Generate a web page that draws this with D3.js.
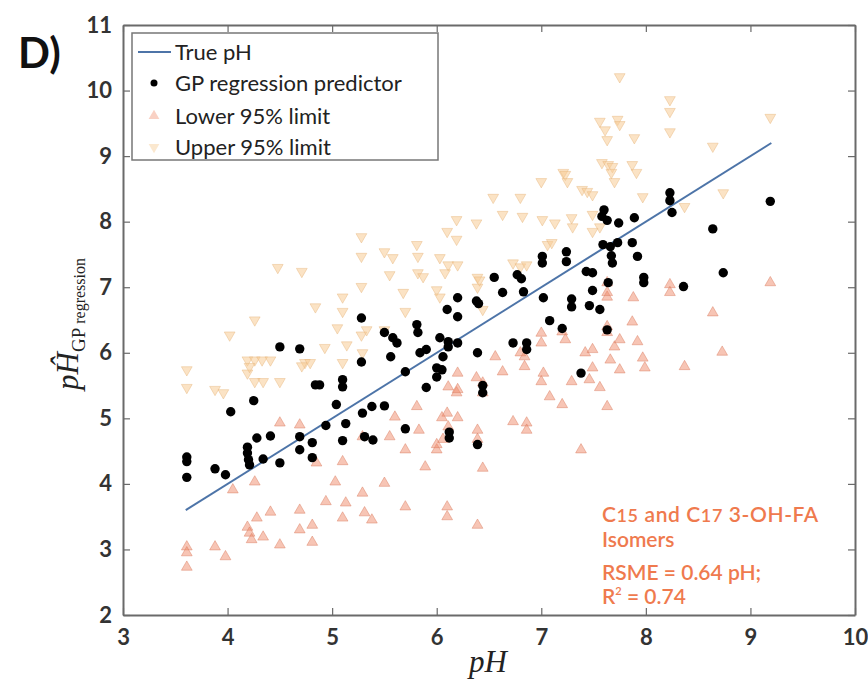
<!DOCTYPE html>
<html lang="en">
<head>
   <meta charset="UTF-8">
   <title>GP regression pH</title>
   <script src="https://cdn.jsdelivr.net/npm/d3@7"></script>
   <style>
      body { margin: 0; background: #fff; }
      svg text { font-family: Lato, "Open Sans", sans-serif; }
   </style>
</head>
<body>
   <svg id="chart" width="868" height="690"></svg>

   <script>
      // axis ticks
      const xTicks = [3, 4, 5, 6, 7, 8, 9, 10];
      const yTicks = [2, 3, 4, 5, 6, 7, 8, 9, 10, 11];

      // true pH line end points
      const trueLine = [[3.6, 3.6], [9.2, 9.2]];

      // GP regression predictor [true pH, predicted pH]
      const predPts = [
         [3.61,4.41],[3.61,4.34],[3.61,4.10],[3.88,4.23],[3.98,4.14],[4.03,5.10],[4.25,5.27],
         [4.19,4.56],[4.19,4.47],[4.20,4.37],[4.21,4.29],[4.28,4.70],[4.41,4.73],[4.34,4.38],
         [4.50,6.09],[4.50,4.32],[4.69,6.06],[4.69,4.72],[4.69,4.52],[4.81,4.63],[4.81,4.40],
         [4.84,5.51],[4.88,5.51],[4.94,4.89],[5.04,5.21],[5.10,5.59],[5.10,5.48],[5.10,4.66],
         [5.13,4.92],[5.28,6.53],[5.28,5.86],[5.29,5.08],[5.31,4.72],[5.39,4.67],[5.38,5.18],
         [5.50,6.31],[5.50,5.19],[5.56,5.94],[5.58,6.23],[5.62,6.15],[5.70,5.71],[5.70,4.84],
         [5.81,6.43],[5.82,6.31],[5.84,6.00],[5.90,6.05],[5.90,5.47],[6.00,5.77],[6.05,5.74],
         [6.00,5.63],[6.06,5.94],[6.03,6.23],[6.11,6.17],[6.11,6.09],[6.20,6.15],[6.10,6.66],
         [6.20,6.55],[6.20,6.84],[6.38,6.79],[6.40,6.75],[6.39,6.00],[6.44,5.50],[6.44,5.39],
         [6.12,4.79],[6.12,4.70],[6.39,4.60],[6.55,7.15],[6.63,6.92],[6.77,7.19],[6.81,7.13],
         [6.83,6.93],[7.01,7.47],[7.01,7.37],[7.02,6.84],[7.08,6.49],[7.20,6.37],[6.73,6.15],
         [6.86,6.15],[6.86,6.05],[7.24,7.54],[7.24,7.39],[7.43,7.24],[7.49,7.22],[7.49,6.95],
         [7.29,6.82],[7.29,6.70],[7.46,6.72],[7.56,6.66],[7.38,5.69],[7.63,6.35],[7.64,7.07],
         [7.60,8.18],[7.58,8.08],[7.63,8.02],[7.74,7.98],[7.89,8.06],[7.59,7.65],[7.66,7.62],
         [7.73,7.68],[7.67,7.48],[7.68,7.37],[7.87,7.68],[7.92,7.47],[7.98,7.15],[7.98,7.07],
         [8.23,8.44],[8.23,8.32],[8.25,8.14],[8.36,7.01],[8.64,7.89],[8.74,7.22],[9.19,8.31]
      ];

      // lower 95% limit [true pH, value]
      const lowerPts = [
         [3.61,3.04],[3.61,2.95],[3.61,2.73],[3.88,3.04],[3.98,2.89],[4.05,3.91],[4.26,4.03],
         [4.19,3.34],[4.21,3.25],[4.23,3.15],[4.28,3.48],[4.34,3.19],[4.41,3.57],[4.50,4.93],
         [4.50,3.07],[4.69,4.90],[4.69,3.60],[4.69,3.30],[4.81,3.37],[4.81,3.11],[4.85,4.32],
         [4.94,3.73],[5.03,4.03],[5.10,4.34],[5.13,3.71],[5.10,3.48],[5.29,3.86],[5.31,3.56],
         [5.38,3.45],[5.29,4.72],[5.50,4.01],[5.70,4.52],[5.70,3.65],[5.81,5.18],[5.83,4.82],
         [5.89,4.26],[6.00,4.52],[6.00,4.60],[5.60,5.02],[5.55,4.72],[6.10,3.65],[6.10,3.50],
         [6.10,5.08],[6.05,5.01],[6.20,5.01],[6.11,4.87],[6.06,4.68],[6.11,5.48],[6.19,5.39],
         [6.39,4.82],[6.39,4.68],[6.44,4.24],[6.39,3.37],[6.73,4.95],[6.86,4.93],[6.86,4.82],
         [7.00,5.56],[7.08,5.33],[6.20,5.69],[6.20,5.44],[6.38,5.62],[6.44,5.54],[6.44,5.39],
         [6.56,5.94],[6.63,5.71],[6.80,6.00],[6.84,5.94],[6.84,5.79],[7.02,5.69],[7.00,6.30],
         [7.00,6.15],[7.20,6.32],[7.23,6.20],[7.29,5.56],[7.20,5.21],[7.38,4.52],[7.46,5.59],
         [7.56,5.47],[7.63,5.18],[7.42,6.00],[7.49,6.05],[7.49,5.77],[7.66,5.89],[7.70,6.09],
         [7.75,5.74],[7.75,6.20],[7.63,6.40],[7.63,6.31],[7.63,6.85],[7.63,7.07],[7.63,6.92],
         [7.87,6.47],[7.88,6.84],[7.92,6.17],[7.97,5.92],[7.99,5.77],[8.23,7.04],[8.23,6.92],
         [8.37,5.79],[8.64,6.61],[8.73,6.01],[9.19,7.07]
      ];

      // upper 95% limit [true pH, value]
      const upperPts = [
         [3.61,5.74],[3.61,5.47],[3.88,5.44],[3.96,5.39],[4.02,6.27],[4.26,6.50],[4.19,5.89],
         [4.26,5.89],[4.33,5.89],[4.41,5.89],[4.19,5.69],[4.21,5.79],[4.26,5.56],[4.34,5.56],
         [4.50,5.56],[4.48,7.30],[4.71,7.24],[4.74,5.85],[4.79,5.85],[4.71,5.80],[4.84,6.70],
         [4.93,6.08],[5.05,6.38],[5.10,6.85],[5.10,6.63],[5.10,5.85],[5.14,6.12],[5.28,7.77],
         [5.28,7.47],[5.28,7.01],[5.28,6.27],[5.29,6.00],[5.33,6.35],[5.50,6.35],[5.50,7.54],
         [5.58,7.45],[5.55,7.19],[5.68,6.92],[5.70,6.63],[5.81,7.65],[5.82,7.47],[5.82,7.22],
         [5.87,7.16],[6.00,6.96],[6.03,6.85],[6.03,7.45],[6.11,7.34],[6.20,7.34],[6.08,7.22],
         [6.10,7.85],[6.19,7.73],[6.19,8.03],[6.38,7.98],[6.39,7.15],[6.39,7.00],[6.41,7.11],
         [6.44,6.66],[6.54,8.37],[6.63,8.11],[6.80,8.37],[6.82,8.08],[6.73,7.37],[6.80,7.31],
         [6.86,7.34],[7.00,8.61],[7.01,8.03],[7.06,7.65],[7.10,7.68],[7.13,7.98],[7.21,8.75],
         [7.23,8.72],[7.25,8.61],[7.29,8.06],[7.30,7.92],[7.39,8.49],[7.44,8.46],[7.49,8.41],
         [7.49,8.11],[7.56,7.92],[7.49,7.85],[7.56,9.53],[7.61,9.40],[7.63,9.25],[7.73,9.56],
         [7.75,9.48],[7.75,10.21],[7.89,9.28],[7.58,8.90],[7.64,8.87],[7.68,8.84],[7.67,8.75],
         [7.70,8.61],[7.87,8.87],[7.91,8.75],[7.97,8.38],[8.23,9.86],[8.23,9.68],[8.23,9.37],
         [8.37,8.23],[8.64,9.15],[8.74,8.44],[9.19,9.59]
      ];

      const legendLabels = ["True pH", "GP regression predictor", "Lower 95% limit", "Upper 95% limit"];

      const svg = d3.select("#chart");
      const plotL = 123, plotR = 855, plotT = 25, plotB = 615;

      const x = d3.scaleLinear().domain([3, 10]).range([plotL, plotR]);
      const y = d3.scaleLinear().domain([2, 11]).range([plotB, plotT]);

      const axisColor = "#6a6a6a";
      const lowerColor = "#f08c6c";
      const upperColor = "#f7cc95";

      // axes with inward ticks, box on all four sides
      function styleAxis(g) {
         g.select(".domain").attr("stroke", axisColor).attr("stroke-width", 2);
         g.selectAll(".tick line").attr("stroke", axisColor).attr("stroke-width", 1.2);
         g.selectAll(".tick text")
            .attr("fill", "#333")
            .attr("font-size", 22)
            .attr("font-weight", 700)
            .attr("font-family", "Lato, sans-serif");
      }

      svg.append("g")
         .attr("transform", `translate(0,${plotB})`)
         .call(d3.axisBottom(x).tickValues(xTicks).tickSize(-7).tickSizeOuter(0).tickPadding(14).tickFormat(d3.format("d")))
         .call(styleAxis);
      svg.append("g")
         .attr("transform", `translate(0,${plotT})`)
         .call(d3.axisTop(x).tickValues(xTicks).tickSize(-7).tickSizeOuter(0).tickFormat(""))
         .call(styleAxis);
      svg.append("g")
         .attr("transform", `translate(${plotL},0)`)
         .call(d3.axisLeft(y).tickValues(yTicks).tickSize(-7).tickSizeOuter(0).tickPadding(11).tickFormat(d3.format("d")))
         .call(styleAxis);
      svg.append("g")
         .attr("transform", `translate(${plotR},0)`)
         .call(d3.axisRight(y).tickValues(yTicks).tickSize(-7).tickSizeOuter(0).tickFormat(""))
         .call(styleAxis);

      // markers
      const triUp = d3.symbol().type(d3.symbolTriangle).size(50);

      svg.append("g").selectAll("path")
         .data(upperPts)
         .join("path")
         .attr("d", triUp)
         .attr("transform", d => `translate(${x(d[0])},${y(d[1])}) rotate(180)`)
         .attr("fill", upperColor)
         .attr("fill-opacity", 0.55)
         .attr("stroke", "#e6b57c")
         .attr("stroke-opacity", 0.45);

      svg.append("g").selectAll("path")
         .data(lowerPts)
         .join("path")
         .attr("d", triUp)
         .attr("transform", d => `translate(${x(d[0])},${y(d[1])})`)
         .attr("fill", lowerColor)
         .attr("fill-opacity", 0.5)
         .attr("stroke", "#d97a5e")
         .attr("stroke-opacity", 0.45);

      svg.append("line")
         .attr("x1", x(trueLine[0][0])).attr("y1", y(trueLine[0][1]))
         .attr("x2", x(trueLine[1][0])).attr("y2", y(trueLine[1][1]))
         .attr("stroke", "#4d74a8")
         .attr("stroke-width", 2);

      svg.append("g").selectAll("circle")
         .data(predPts)
         .join("circle")
         .attr("cx", d => x(d[0]))
         .attr("cy", d => y(d[1]))
         .attr("r", 4.7)
         .attr("fill", "#000");

      // legend
      const lg = svg.append("g");
      lg.append("rect")
         .attr("x", 132).attr("y", 33).attr("width", 306).attr("height", 127)
         .attr("fill", "#fff").attr("stroke", "#777").attr("stroke-width", 1.5);
      const rowY = [52, 83, 116, 147];
      lg.append("line").attr("x1", 138).attr("x2", 171).attr("y1", rowY[0]).attr("y2", rowY[0])
         .attr("stroke", "#4d74a8").attr("stroke-width", 2);
      lg.append("circle").attr("cx", 154).attr("cy", rowY[1]).attr("r", 3.5).attr("fill", "#000");
      lg.append("path").attr("d", triUp).attr("transform", `translate(154,${rowY[2]})`)
         .attr("fill", lowerColor).attr("fill-opacity", 0.4);
      lg.append("path").attr("d", triUp).attr("transform", `translate(154,${rowY[3]}) rotate(180)`)
         .attr("fill", upperColor).attr("fill-opacity", 0.45);
      lg.selectAll("text.lab")
         .data(legendLabels)
         .join("text")
         .attr("class", "lab")
         .attr("x", 175)
         .attr("y", (d, i) => rowY[i])
         .attr("dy", "0.35em")
         .attr("font-size", 22)
         .attr("fill", "#222")
         .text(d => d);

      // panel letter
      svg.append("text")
         .attr("x", 18).attr("y", 68)
         .attr("font-size", 42).attr("font-weight", 700).attr("fill", "#111")
         .text("D)");

      // axis titles
      svg.append("text")
         .attr("x", 488).attr("y", 672)
         .attr("text-anchor", "middle")
         .style("font-family", "'Liberation Serif', 'DejaVu Serif', serif")
         .attr("font-size", 31).attr("font-style", "italic").attr("fill", "#222")
         .text("pH");

      const yl = svg.append("text")
         .attr("transform", `translate(78,${(plotT + plotB) / 2 + 4}) rotate(-90)`)
         .attr("text-anchor", "middle")
         .style("font-family", "'Liberation Serif', 'DejaVu Serif', serif")
         .attr("fill", "#222");
      yl.append("tspan").attr("font-size", 31).attr("font-style", "italic").text("pĤ");
      yl.append("tspan").attr("font-size", 19).attr("dy", 7).text("GP");
      yl.append("tspan").attr("font-size", 16).text(" regression");

      // annotation
      const noteColor = "#ef7a4e";
      const note = svg.append("g").attr("fill", noteColor).attr("font-size", 21).attr("font-weight", 600);
      const n1 = note.append("text").attr("x", 602).attr("y", 522).attr("letter-spacing", 0.6);
      n1.append("tspan").text("C");
      n1.append("tspan").attr("font-size", 18).text("15");
      n1.append("tspan").text(" and C");
      n1.append("tspan").attr("font-size", 18).text("17");
      n1.append("tspan").text("  3-OH-FA");
      note.append("text").attr("x", 602).attr("y", 547).text("Isomers");
      note.append("text").attr("x", 602).attr("y", 580).text("RSME = 0.64 pH;");
      const n4 = note.append("text").attr("x", 602).attr("y", 604);
      n4.append("tspan").text("R");
      n4.append("tspan").attr("font-size", 11).attr("dy", -9).text("2");
      n4.append("tspan").attr("dy", 9).text(" = 0.74");
   </script>
</body>
</html>
